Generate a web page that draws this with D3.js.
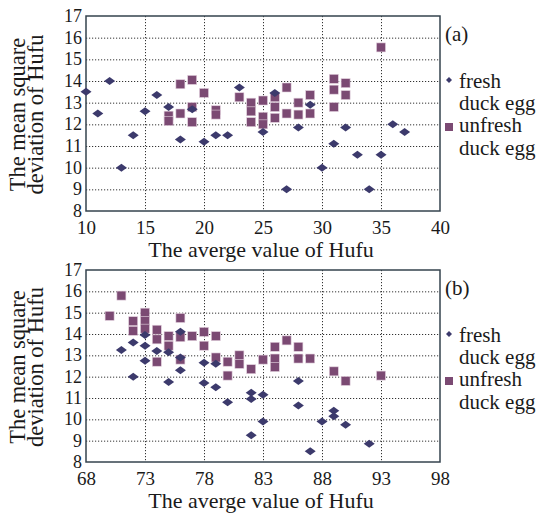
<!DOCTYPE html>
<html>
<head>
<meta charset="utf-8">
<script src="https://cdn.jsdelivr.net/npm/d3@7"></script>
<style>
  body { margin: 0; background: #fff; }
  svg text { font-family: "Liberation Serif", "Times New Roman", serif !important; }
  .grid line { stroke: #333; stroke-dasharray: 1.2,1.8; stroke-width: 1; }
  .grid .domain { display: none; }
</style>
</head>
<body>
<svg id="chart" width="544" height="515"></svg>
<script>
// panel (a)
const xTicksA = [10, 15, 20, 25, 30, 35, 40];
const freshA = [
  [10, 13.5], [11, 12.5], [12, 14], [13, 10], [14, 11.5], [15, 12.6], [16, 13.35],
  [17, 12.8], [18, 11.3], [19, 12.7], [20, 11.2], [21, 11.5], [22, 11.5], [23, 13.7],
  [25, 11.65], [26, 13.45], [27, 9], [28, 11.85], [29, 12.9], [30, 10], [31, 11.1],
  [32, 11.85], [33, 10.6], [34, 9], [35, 10.6], [36, 12], [37, 11.65]
];
const unfreshA = [
  [17, 12.4], [17, 12.15], [18, 13.85], [18, 12.5], [19, 14.05], [19, 12.8], [19, 12.1],
  [20, 13.45], [21, 12.65], [21, 12.45], [23, 13.25], [24, 13.0], [24, 12.6], [24, 12.1],
  [25, 13.1], [25, 12.35], [25, 12.0], [26, 13.25], [26, 12.8], [26, 12.3], [27, 13.7],
  [27, 12.5], [28, 13.0], [28, 12.45], [29, 13.35], [29, 12.5], [31, 14.1], [31, 13.6],
  [31, 12.8], [32, 13.9], [32, 13.35], [35, 15.55]
];

// panel (b)
const xTicksB = [68, 73, 78, 83, 88, 93, 98];
const freshB = [
  [71, 13.25], [72, 13.6], [72, 12.0], [73, 13.95], [73, 13.45], [73, 12.75], [74, 13.2],
  [75, 13.15], [75, 11.75], [76, 14.1], [76, 12.9], [76, 12.3], [78, 12.65], [78, 11.7],
  [79, 12.6], [79, 11.5], [80, 10.8], [82, 11.25], [82, 10.95], [82, 9.25], [83, 11.15],
  [83, 9.9], [86, 11.8], [86, 10.65], [87, 8.5], [88, 9.9], [89, 10.4], [89, 10.15],
  [90, 9.75], [92, 8.85]
];
const unfreshB = [
  [70, 14.85], [71, 15.8], [72, 14.6], [72, 14.15], [73, 15.0], [73, 14.6], [73, 14.25],
  [74, 14.2], [74, 13.75], [74, 12.7], [75, 13.9], [75, 13.45], [76, 14.75], [76, 13.85],
  [76, 12.8], [77, 13.9], [78, 14.1], [78, 13.45], [79, 13.9], [79, 12.9], [80, 12.7],
  [80, 12.05], [81, 13.0], [81, 12.6], [82, 12.35], [83, 12.8], [84, 13.4], [84, 12.85],
  [84, 12.45], [85, 13.7], [86, 13.4], [86, 12.85], [87, 12.85], [89, 12.25], [90, 11.8],
  [93, 12.05]
];

const yTicks = [8, 9, 10, 11, 12, 13, 14, 15, 16, 17];
const xTitle = "The averge value of Hufu";
const yTitle = ["The mean square", "deviation of Hufu"];
const legendLabels = [["fresh", "duck egg"], ["unfresh", "duck egg"]];

const freshColor = "#3c3a6c";
const unfreshColor = "#7b4a73";
const textColor = "#1a1a1a";
const diamond = "M-5.5,0L0,-4L5.5,0L0,4Z";

const svg = d3.select("#chart");

function panel(top, h, xTicks, fresh, unfresh, tag) {
  const left = 86, width = 354;
  const g = svg.append("g").attr("transform", "translate(" + left + "," + top + ")");

  const x = d3.scaleLinear().domain(d3.extent(xTicks)).range([0, width]);
  const y = d3.scaleLinear().domain([8, 17]).range([h, 0]);

  // dotted grid
  g.append("g").attr("class", "grid")
    .attr("transform", "translate(0," + h + ")")
    .call(d3.axisBottom(x).tickValues(xTicks.slice(1, -1)).tickSize(h).tickFormat(""))
    .selectAll("line").attr("y1", -h).attr("y2", 0);
  g.append("g").attr("class", "grid")
    .call(d3.axisLeft(y).tickValues(yTicks.slice(1, -1)).tickSize(-width).tickFormat(""));

  // tick labels
  const xa = g.append("g")
    .attr("transform", "translate(0," + h + ")")
    .call(d3.axisBottom(x).tickValues(xTicks).tickSize(0).tickPadding(10));
  xa.select(".domain").remove();
  xa.selectAll("text").attr("fill", textColor).style("font-size", "19px");

  const ya = g.append("g")
    .call(d3.axisLeft(y).tickValues(yTicks).tickSize(0).tickPadding(4));
  ya.select(".domain").remove();
  ya.selectAll("text").attr("fill", textColor)
    .attr("dy", "0.3em")
    .style("font-size", "18px");

  g.append("rect")
    .attr("width", width).attr("height", h)
    .attr("fill", "none").attr("stroke", "#34434e").attr("stroke-width", 1.5);

  g.selectAll(".sq")
    .data(unfresh)
    .enter().append("rect")
    .attr("class", "sq")
    .attr("x", d => x(d[0]) - 4.5)
    .attr("y", d => y(d[1]) - 4.5)
    .attr("width", 9).attr("height", 9)
    .attr("fill", unfreshColor)
    .attr("stroke", "#e2cfdc").attr("stroke-width", 0.6);

  g.selectAll(".dot")
    .data(fresh)
    .enter().append("path")
    .attr("class", "dot")
    .attr("d", diamond)
    .attr("transform", d => "translate(" + x(d[0]) + "," + y(d[1]) + ")")
    .attr("fill", freshColor);

  // axis titles
  g.append("text")
    .attr("x", width / 2 - 2).attr("y", h + 46)
    .attr("text-anchor", "middle")
    .attr("fill", textColor)
    .style("font-size", "22px")
    .text(xTitle);

  yTitle.forEach((t, i) => {
    g.append("text")
      .attr("transform", "translate(" + (-61 + i * 18) + "," + (h / 2 + 1) + ") rotate(-90)")
      .attr("text-anchor", "middle")
      .attr("fill", textColor)
      .style("font-size", "22.5px")
      .text(t);
  });

  // legend
  const lg = svg.append("g").attr("transform", "translate(444," + top + ")");
  lg.append("text").attr("x", 1).attr("y", 25).attr("fill", textColor)
    .style("font-size", "21px").text(tag);
  lg.append("path").attr("d", "M-3,0L0,-3L3,0L0,3Z")
    .attr("transform", "translate(5,64)").attr("fill", freshColor);
  lg.append("rect").attr("x", 1).attr("y", 107).attr("width", 8).attr("height", 8)
    .attr("fill", unfreshColor);
  [[72, 94], [116, 139]].forEach((ys, k) => {
    ys.forEach((yy, j) => {
      lg.append("text").attr("x", 15).attr("y", yy).attr("fill", textColor)
        .style("font-size", "21px").text(legendLabels[k][j]);
    });
  });
}

panel(16, 195, xTicksA, freshA, unfreshA, "(a)");
panel(270, 192, xTicksB, freshB, unfreshB, "(b)");
</script>
</body>
</html>
